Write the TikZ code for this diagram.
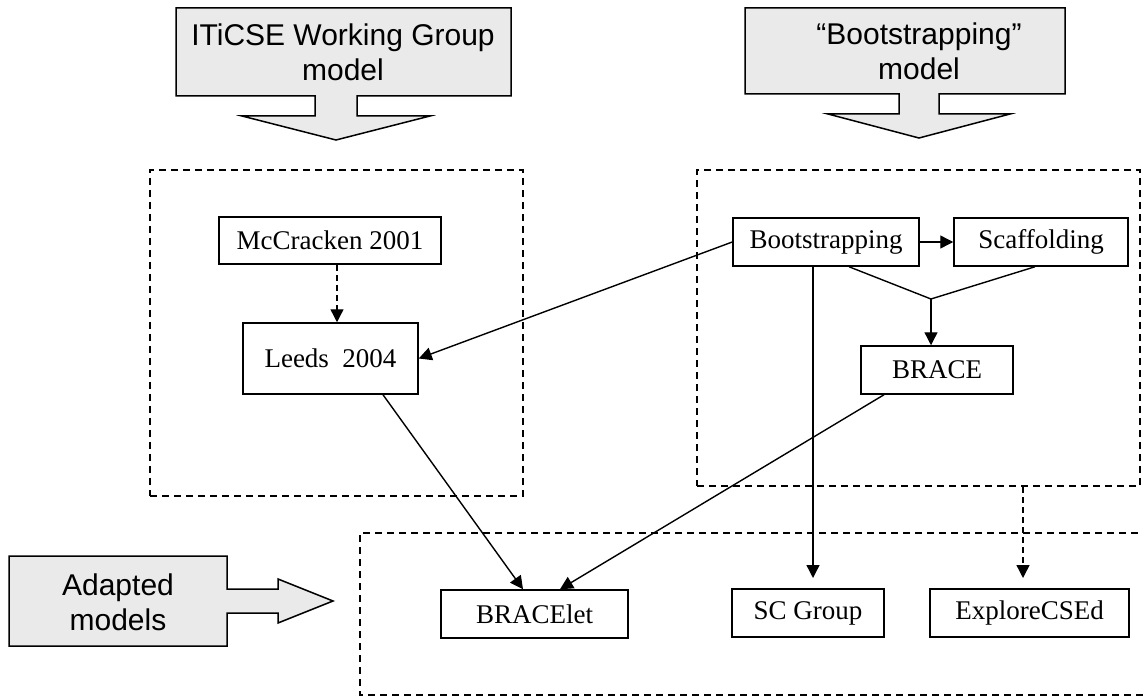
\documentclass[tikz,border=0pt]{standalone}
\usepackage{fontspec}
\setmainfont{Liberation Serif}
\newfontfamily\calloutfont[Ligatures=TeX]{Liberation Sans}
\usetikzlibrary{positioning,arrows.meta}
\definecolor{callgray}{HTML}{EAEAEA}
\tikzset{
  model/.style={
    rectangle, draw=black, line width=1.5pt, fill=white,
    font=\fontsize{27}{30}\selectfont, inner sep=0pt
  },
  groupline/.style={draw=black, line width=2.4pt, dash pattern=on 7pt off 5pt},
  group/.style={groupline, rectangle, inner sep=0pt},
  callout/.style={draw=black, line width=1.5pt, fill=callgray},
  calltext/.style={font=\calloutfont\fontsize{30}{35}\selectfont, align=center},
  arrow/.style={-{Triangle[length=13pt,width=13pt]}, line width=1.4pt},
  softdash/.style={dash pattern=on 6pt off 4pt},
}

\begin{document}
\begin{tikzpicture}[x=1pt,y=-1pt]
  \useasboundingbox (0,0) rectangle (1143,698);

  % the two sources, drawn as callouts pointing down
  \draw[callout] (176,8) -- (511,8) -- (511,96) -- (357,96) -- (357,116) -- (430,116)
    -- (336,140) -- (242,116) -- (315,116) -- (315,96) -- (176,96) -- cycle;
  \node[calltext] (iticse) at (343,52) {ITiCSE Working Group\\model};
  \draw[callout] (745,8) -- (1065,8) -- (1065,94) -- (939,94) -- (939,114) -- (1010,114)
    -- (919,138) -- (828,114) -- (899,114) -- (899,94) -- (745,94) -- cycle;
  \node[calltext] (bootmodel) at (919,51) {``Bootstrapping''\\model};

  % callout pointing right at the adapted models
  \draw[callout] (9,556) -- (227,556) -- (227,589) -- (278,589) -- (278,579) -- (333,601)
    -- (278,623) -- (278,613) -- (227,613) -- (227,646) -- (9,646) -- cycle;
  \node[calltext] (adapted) at (118,602) {Adapted\\models};

  % dashed groups
  \node[group, minimum width=373pt, minimum height=326pt] (leftgrp) at (336.5,333) {};
  \node[group, minimum width=443pt, minimum height=316pt] (rightgrp) at (918.5,328) {};
  \draw[groupline] (1150,533) -- (360,533) -- (360,695) -- (1150,695);

  % models
  \node[model, minimum width=222pt, minimum height=47pt] (mccr) at (330,240.5) {McCracken 2001};
  \node[model, minimum width=175pt, minimum height=71pt] (leeds) at (330.5,358.5) {Leeds~~2004};
  \node[model, minimum width=186pt, minimum height=48pt] (boot) at (826,242) {Bootstrapping};
  \node[model, minimum width=174pt, minimum height=48pt] (scaff) at (1041,242) {Scaffolding};
  \node[model, minimum width=152pt, minimum height=48pt] (brace) at (937,370) {BRACE};
  \node[model, minimum width=187pt, minimum height=48pt] (bracelet) at (534.5,614) {BRACElet};
  \node[model, minimum width=152pt, minimum height=48pt] (scgroup) at (808,613) {SC Group};
  \node[model, minimum width=199pt, minimum height=48pt] (explore) at (1029.5,613) {ExploreCSEd};

  % connectors
  \draw[arrow, softdash] ([xshift=7pt]mccr.south) -- ([xshift=7pt]mccr.south |- leeds.north);
  \draw[arrow] (boot.west) -- (leeds.east);
  \draw[arrow] (boot.east) -- (scaff.west);
  \coordinate (merge) at (931,299);
  \draw[line width=1.4pt] ([xshift=23pt]boot.south) -- (merge) -- ([xshift=-6pt]scaff.south);
  \draw[arrow] (merge) -- (merge |- brace.north);
  \draw[arrow] ([xshift=52.5pt]leeds.south) -- ([xshift=-11.5pt]bracelet.north);
  \draw[arrow] ([xshift=-53pt]brace.south) -- ([xshift=25.5pt]bracelet.north);
  \coordinate (scin) at (813,578);
  \draw[arrow] (boot.south -| scin) -- (scin);
  \coordinate (exin) at (1023,578);
  \draw[arrow, softdash] (rightgrp.south -| exin) -- (exin);
\end{tikzpicture}
\end{document}
